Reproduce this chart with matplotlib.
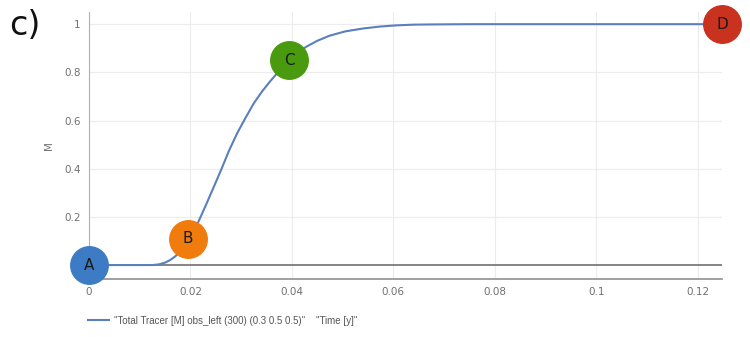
import matplotlib
matplotlib.use("Agg")
import matplotlib.pyplot as plt
from matplotlib.lines import Line2D

# Curve data (time in years, M)
time_y = [0.0, 0.005, 0.010, 0.0125, 0.0138, 0.0150, 0.0160, 0.0170, 0.0182, 0.0195,
          0.0207, 0.0217, 0.0230, 0.0243, 0.0260, 0.0276, 0.0292, 0.0309, 0.0325,
          0.0342, 0.0356, 0.0369, 0.0382, 0.0395, 0.0410, 0.0428, 0.0450, 0.0474,
          0.0505, 0.0540, 0.0573, 0.0605, 0.0640, 0.0680, 0.0750, 0.0850, 0.1000, 0.1248]
tracer_m = [0.0, 0.0, 0.0, 0.0, 0.003, 0.010, 0.021, 0.036, 0.062, 0.100,
            0.142, 0.186, 0.247, 0.310, 0.393, 0.475, 0.547, 0.613, 0.672,
            0.723, 0.760, 0.792, 0.823, 0.850, 0.879, 0.906, 0.931, 0.952,
            0.970, 0.982, 0.990, 0.995, 0.998, 0.999, 1.0, 1.0, 1.0, 1.0]

# Marked points
point_labels = ["A", "B", "C", "D"]
point_x = [0.0, 0.0195, 0.0395, 0.1248]
point_y = [0.0, 0.110, 0.850, 1.0]
point_colors = ["#3d7cc4", "#f07c0e", "#4a9a10", "#c8321e"]

x_ticks = [0, 0.02, 0.04, 0.06, 0.08, 0.1, 0.12]
x_tick_labels = ["0", "0.02", "0.04", "0.06", "0.08", "0.1", "0.12"]
y_ticks = [0.2, 0.4, 0.6, 0.8, 1.0]
y_tick_labels = ["0.2", "0.4", "0.6", "0.8", "1"]

legend_series = '"Total Tracer [M] obs_left (300) (0.3 0.5 0.5)"'
legend_x = '"Time [y]"'

fig = plt.figure(figsize=(7.5, 3.37), dpi=100)
ax = fig.add_axes([0.1187, 0.172, 0.844, 0.792])

ax.set_xlim(0, 0.1248)
ax.set_ylim(-0.058, 1.05)

grid_c = "#ececec"
for xt in x_ticks[1:]:
    ax.axvline(xt, color=grid_c, lw=0.8, zorder=0)
for yt in y_ticks:
    ax.axhline(yt, color=grid_c, lw=0.8, zorder=0)
ax.axhline(0, color="#707070", lw=1.2, zorder=1)

ax.plot(time_y, tracer_m, color="#5a7fbf", lw=1.5, zorder=2, clip_on=False,
        solid_joinstyle="round")

for lab, px, py, c in zip(point_labels, point_x, point_y, point_colors):
    ax.plot([px], [py], marker="o", ms=27, color=c, mec=c, zorder=5, clip_on=False)
    ax.text(px, py, lab, ha="center", va="center", fontsize=11, color="#1a1a1a",
            zorder=6, clip_on=False)

for s in ["top", "right"]:
    ax.spines[s].set_visible(False)
ax.spines["left"].set_color("#b0b0b0")
ax.spines["bottom"].set_color("#909090")
ax.spines["bottom"].set_linewidth(1.2)

ax.set_xticks(x_ticks)
ax.set_xticklabels(x_tick_labels)
ax.set_yticks(y_ticks)
ax.set_yticklabels(y_tick_labels)
ax.tick_params(axis="both", length=0, labelsize=7.5, colors="#707070", pad=6)
ax.set_ylabel("M", fontsize=7.5, color="#707070", labelpad=7)

fig.text(0.012, 0.925, "c)", fontsize=24, color="#111111", va="center", ha="left")

handle = Line2D([0], [0], color="#5a7fbf", lw=1.5)
fig.legend([handle], [legend_series], loc="center left", bbox_to_anchor=(0.105, 0.048),
           frameon=False, handlelength=2.2, handletextpad=0.5,
           labelcolor="#555555", prop={"family": "Liberation Sans", "size": 7})
fig.text(0.421, 0.048, legend_x, fontsize=7, family="Liberation Sans",
         color="#555555", va="center", ha="left")

fig.savefig("out.png", dpi=100, facecolor="white")
